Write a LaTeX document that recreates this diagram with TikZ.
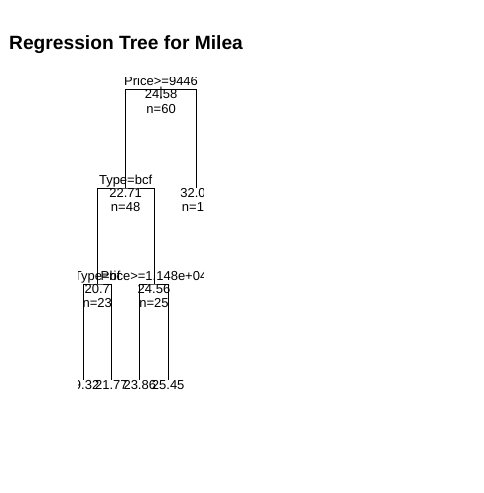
\documentclass[tikz,border=0pt]{standalone}
\usepackage{fontspec}
\setmainfont{Liberation Sans}
\begin{document}
\begin{tikzpicture}[x=1pt,y=-1pt,
  lbl/.style={inner sep=0pt, anchor=base, font=\fontsize{13}{15}\selectfont},
  edge/.style={line width=0.8pt, black}]
\useasboundingbox[fill=white] (0,0) rectangle (483,493);
\node[anchor=base west, inner sep=0pt, font=\bfseries\fontsize{19.2}{22}\selectfont] (title) at (9,49) {Regression Tree for Milea};
\begin{scope}
\clip (78,77) rectangle (203,493);
% tree node positions
\coordinate (root) at (161.1,89.5);
\coordinate (a) at (125.6,188);
\coordinate (b) at (196.6,188);
\coordinate (aa) at (97.2,284);
\coordinate (ab) at (154.0,284);
\coordinate (l1) at (83,380);
\coordinate (l2) at (111.4,380);
\coordinate (l3) at (139.8,380);
\coordinate (l4) at (168.2,380);
% branches
\draw[edge] (a) |- (root) -| (b);
\draw[edge] (aa) |- (a) -| (ab);
\draw[edge] (l1) |- (aa) -| (l2);
\draw[edge] (l3) |- (ab) -| (l4);
% labels
\node[lbl] (rs) at ([yshift=4pt]root) {Price>=9446};
\node[lbl] (rbar) at ([yshift=-7pt]root) {|};
\node[lbl] (rv) at ([yshift=-9pt]root) {24.58};
\node[lbl] (rn) at ([yshift=-23.5pt]root) {n=60};
\node[lbl] (as) at ([yshift=4pt]a) {Type=bcf};
\node[lbl] (av) at ([yshift=-9pt]a) {22.71};
\node[lbl] (an) at ([yshift=-23.5pt]a) {n=48};
\node[lbl] (bv) at ([yshift=-9pt]b) {32.08};
\node[lbl] (bn) at ([yshift=-23.5pt]b) {n=12};
\node[lbl] (aas) at ([yshift=4pt]aa) {Type=bf};
\node[lbl] (aav) at ([yshift=-9pt]aa) {20.7};
\node[lbl] (aan) at ([yshift=-23.5pt]aa) {n=23};
\node[lbl] (abs) at ([yshift=4pt]ab) {Price>=1.148e+04};
\node[lbl] (abv) at ([yshift=-9pt]ab) {24.56};
\node[lbl] (abn) at ([yshift=-23.5pt]ab) {n=25};
\node[lbl] (t1) at ([yshift=-9.5pt]l1) {19.32};
\node[lbl] (t2) at ([yshift=-9.5pt]l2) {21.77};
\node[lbl] (t3) at ([yshift=-9.5pt]l3) {23.86};
\node[lbl] (t4) at ([yshift=-9.5pt]l4) {25.45};
\end{scope}
\end{tikzpicture}
\end{document}
